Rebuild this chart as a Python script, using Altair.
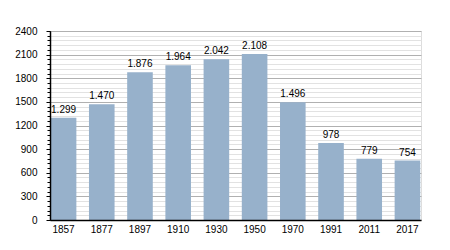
import altair as alt
import pandas as pd

years = ["1857", "1877", "1897", "1910", "1930", "1950", "1970", "1991", "2011", "2017"]
population = [1299, 1470, 1876, 1964, 2042, 2108, 1496, 978, 779, 754]
major_ticks = [0, 300, 600, 900, 1200, 1500, 1800, 2100, 2400]
minor_ticks = list(range(0, 2401, 60))

df = pd.DataFrame({"year": years, "pop": population})
df["label"] = [f"{v:,}".replace(",", ".") for v in population]

FONT = "Liberation Sans"
BAR = "#97b1cb"

x_enc = alt.X("year:N", sort=years, title=None,
              scale=alt.Scale(paddingInner=0.33, paddingOuter=0.02),
              axis=alt.Axis(labelAngle=0, ticks=False, domainColor="#000000",
                            domainWidth=1.5, zindex=1,
                            labelFont=FONT, labelFontSize=10, labelColor="#000000",
                            labelPadding=4, grid=False))

yscale = alt.Scale(domain=[0, 2400], nice=False)

minor = alt.Chart(df).mark_bar(opacity=0).encode(
    x=x_enc,
    y=alt.Y("pop:Q", scale=yscale, title=None,
            axis=alt.Axis(orient="left", values=minor_ticks, labels=False,
                          grid=True, gridColor="#e2e2e2", gridWidth=1,
                          tickSize=3, tickColor="#000000", domain=False, zindex=0)),
)

major_grid = alt.Chart(df).mark_bar(opacity=0).encode(
    x=x_enc,
    y=alt.Y("pop:Q", scale=yscale, title=None,
            axis=alt.Axis(orient="left", values=major_ticks, labels=False,
                          grid=True, gridColor="#b0b0b0", gridWidth=1,
                          ticks=False, domain=False, zindex=0)),
)

bars = alt.Chart(df).mark_bar(color=BAR).encode(
    x=x_enc,
    y=alt.Y("pop:Q", scale=yscale, title=None,
            axis=alt.Axis(orient="left", values=major_ticks, grid=False, format="d",
                          tickSize=4, tickColor="#000000", domainColor="#000000",
                          domainWidth=1.5, zindex=1,
                          labelFont=FONT, labelFontSize=10, labelColor="#000000",
                          labelPadding=9)),
)

text = alt.Chart(df).mark_text(font=FONT, fontSize=10, color="#000000",
                               baseline="alphabetic", dy=-5).encode(
    x=x_enc,
    y=alt.Y("pop:Q", scale=yscale, axis=None),
    text="label:N",
)

chart = alt.layer(minor, major_grid, bars, text).resolve_axis(y="independent").properties(
    width=371, height=189,
    autosize=alt.AutoSizeParams(type="none"),
    padding={"left": 50, "top": 31, "right": 29, "bottom": 30},
).configure_view(stroke=None).configure(background="#ffffff")

chart.save("out.html", embed_options={"renderer": "svg", "actions": False})
